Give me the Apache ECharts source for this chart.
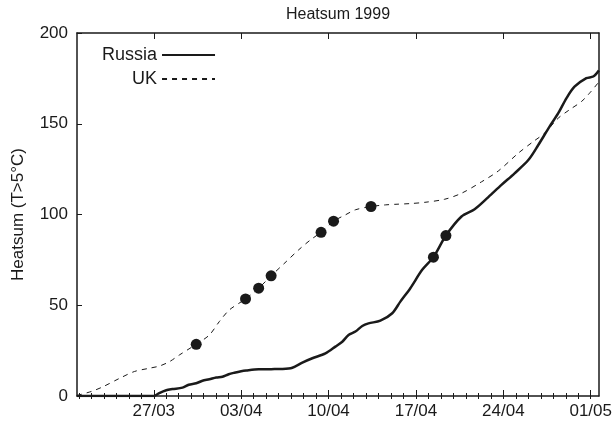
<!DOCTYPE html>
<html>
<head>
<meta charset="utf-8">
<script src="https://cdn.jsdelivr.net/npm/echarts@6/dist/echarts.min.js"></script>
<style>
html,body{margin:0;padding:0;background:#fff;}
#chart{width:615px;height:424px;}
</style>
</head>
<body>
<div id="chart"></div>
<script>
// Day-of-year 1999 positions of weekly ticks and their labels
const tickDays = [86, 93, 100, 107, 114, 121];
const tickLabels = ['27/03', '03/04', '10/04', '17/04', '24/04', '01/05'];
const minorDays = [80,81,82,83,84,85,86,87,88,89,90,91,92,93,94,95,96,97,98,99,100,101,102,103,104,105,106,107,108,109,110,111,112,113,114,115,116,117,118,119,120,121];

// UK heatsum (day of year, value)
const ukDays = [79.85, 81.0, 81.9, 83.25, 84.45, 85.65, 86.45, 87.25, 88.05, 89.4, 90.45, 91.25, 92.05, 93.35, 94.4, 95.4, 96.6, 97.6, 98.55, 99.4, 100.4, 101.35, 102.15, 103.4, 104.55, 105.3, 106.5, 107.7, 109.3, 110.65, 112.25, 113.6, 115.2, 116.4, 117.3, 118.4, 119.3, 120.25, 120.9, 121.65];
const ukValues = [0.3, 2.5, 5, 9.7, 13.5, 15.3, 16.5, 18.9, 22.6, 28.5, 33.6, 41, 47.4, 53.5, 59.4, 66.2, 74, 80.5, 86, 90.2, 96.3, 99.8, 102.6, 104.4, 105.3, 105.6, 106, 106.7, 108.4, 111.7, 118, 124, 133.8, 140.2, 144.8, 153.1, 157.7, 162.2, 166.8, 173];

// Russia heatsum (day of year, value)
const ruDays = [79.85, 86.0, 86.4, 87.0, 87.5, 88.3, 88.8, 89.4, 89.9, 90.45, 91.0, 91.5, 92.0, 92.45, 93.0, 93.4, 94.4, 95.4, 96.3, 97.1, 97.9, 98.7, 99.75, 100.55, 101.1, 101.6, 102.15, 102.7, 103.2, 104.15, 105.1, 105.75, 106.55, 107.5, 108.4, 109.4, 110.65, 111.7, 112.8, 113.85, 114.9, 116.0, 116.8, 117.7, 118.4, 119.05, 119.7, 120.65, 121.2, 121.65];
const ruValues = [0, 0, 1.5, 3.2, 3.8, 4.6, 6.2, 7, 8.4, 9.2, 10.2, 10.6, 12.0, 12.8, 13.6, 14, 14.7, 14.8, 14.9, 15.6, 18.4, 20.8, 23.5, 27.2, 29.9, 33.6, 35.5, 38.6, 40, 41.5, 45.6, 52, 59.4, 69.5, 76.5, 88.4, 98.9, 102.9, 109.6, 116.3, 122.7, 130, 138.3, 148.4, 155.8, 164, 170.4, 175.1, 176, 179.4];

// Marked points
const ukDotDays = [89.4, 93.35, 94.4, 95.4, 99.4, 100.4, 103.4];
const ukDotValues = [28.5, 53.5, 59.4, 66.2, 90.2, 96.3, 104.4];
const ruDotDays = [108.4, 109.4];
const ruDotValues = [76.5, 88.4];

const X_MIN = 79.85, X_MAX = 121.65;
const ink = '#1a1a1a';
const font = 'Liberation Sans, Arial, sans-serif';

function zip(a, b) { return a.map((v, i) => [v, b[i]]); }

const chart = echarts.init(document.getElementById('chart'), null, {renderer: 'canvas'});

const baseX = {
  type: 'value', min: X_MIN, max: X_MAX, gridIndex: 0,
  splitLine: {show: false},
  axisLine: {show: false},
  axisTick: {show: false},
  axisLabel: {show: false}
};

chart.setOption({
  animation: false,
  backgroundColor: '#fff',
  title: {
    text: 'Heatsum 1999',
    left: 281, top: 2,
    textStyle: {fontFamily: font, fontSize: 16, fontWeight: 'normal', color: ink}
  },
  grid: {left: 77, right: 14, top: 33, bottom: 28, containLabel: false},
  legend: {
    data: ['Russia', 'UK'],
    orient: 'vertical',
    align: 'right',
    left: 102, top: 46,
    padding: 0,
    itemWidth: 53, itemHeight: 10, itemGap: 6,
    itemStyle: {opacity: 0},
    textStyle: {fontFamily: font, fontSize: 18, color: ink}
  },
  xAxis: [
    Object.assign({}, baseX, {
      position: 'bottom',
      axisLine: {show: true, onZero: false, lineStyle: {color: ink, width: 1.5}},
      axisTick: {show: true, inside: true, length: 6, customValues: tickDays, lineStyle: {color: ink, width: 1}},
      axisLabel: {show: true, customValues: tickDays, margin: 7, fontFamily: font, fontSize: 17, color: ink,
        formatter: v => tickLabels[tickDays.indexOf(Math.round(v))] || ''}
    }),
    Object.assign({}, baseX, {
      position: 'bottom',
      axisTick: {show: true, inside: true, length: 3, customValues: minorDays, lineStyle: {color: ink, width: 1}}
    }),
    Object.assign({}, baseX, {
      position: 'top',
      axisLine: {show: true, onZero: false, lineStyle: {color: ink, width: 1.5}},
      axisTick: {show: true, inside: true, length: 6, customValues: tickDays, lineStyle: {color: ink, width: 1}}
    }),
    Object.assign({}, baseX, {
      position: 'top',
      axisTick: {show: true, inside: true, length: 3, customValues: minorDays, lineStyle: {color: ink, width: 1}}
    })
  ],
  yAxis: [
    {
      type: 'value', min: 0, max: 200, interval: 50, position: 'left',
      name: 'Heatsum (T>5°C)', nameLocation: 'middle', nameGap: 50, nameRotate: 90,
      nameTextStyle: {fontFamily: font, fontSize: 17, color: ink},
      splitLine: {show: false},
      axisLine: {show: true, onZero: false, lineStyle: {color: ink, width: 1.5}},
      axisTick: {show: true, inside: true, length: 5, lineStyle: {color: ink, width: 1}},
      axisLabel: {margin: 9, fontFamily: font, fontSize: 17, color: ink}
    },
    {
      type: 'value', min: 0, max: 200, interval: 50, position: 'right',
      splitLine: {show: false},
      axisLine: {show: true, onZero: false, lineStyle: {color: ink, width: 1.5}},
      axisTick: {show: false}, axisLabel: {show: false}
    }
  ],
  series: [
    {
      name: 'Russia', type: 'line', xAxisIndex: 0, yAxisIndex: 0,
      data: zip(ruDays, ruValues), smooth: 0.3, symbol: 'none',
      lineStyle: {color: ink, width: 2.5}, itemStyle: {color: ink}
    },
    {
      name: 'UK', type: 'line', xAxisIndex: 0, yAxisIndex: 0,
      data: zip(ukDays, ukValues), smooth: 0.3, symbol: 'none',
      lineStyle: {color: ink, width: 1, type: [5, 5]}, itemStyle: {color: ink}
    },
    {
      name: 'UK marks', type: 'scatter', xAxisIndex: 0, yAxisIndex: 0,
      data: zip(ukDotDays, ukDotValues), symbol: 'circle', symbolSize: 11,
      itemStyle: {color: ink, opacity: 1}, z: 5
    },
    {
      name: 'Russia marks', type: 'scatter', xAxisIndex: 0, yAxisIndex: 0,
      data: zip(ruDotDays, ruDotValues), symbol: 'circle', symbolSize: 11,
      itemStyle: {color: ink, opacity: 1}, z: 5
    }
  ]
});
</script>
</body>
</html>
